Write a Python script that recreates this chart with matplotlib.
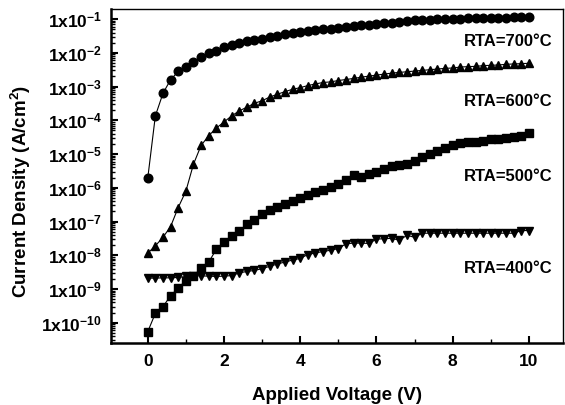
import matplotlib
matplotlib.use("Agg")
import matplotlib.pyplot as plt
import numpy as np
from matplotlib.ticker import LogLocator, FixedLocator, NullFormatter

plt.rcParams['font.family'] = ['Liberation Sans', 'DejaVu Sans']
plt.rcParams['font.weight'] = 'bold'
plt.rcParams['mathtext.fontset'] = 'custom'
plt.rcParams['mathtext.rm'] = 'Liberation Sans:bold'
plt.rcParams['mathtext.bf'] = 'Liberation Sans:bold'
plt.rcParams['mathtext.it'] = 'Liberation Sans:bold'

# applied voltage (V)
voltage = [0.0, 0.2, 0.4, 0.6, 0.8, 1.0, 1.2, 1.4, 1.6, 1.8,
           2.0, 2.2, 2.4, 2.6, 2.8, 3.0, 3.2, 3.4, 3.6, 3.8,
           4.0, 4.2, 4.4, 4.6, 4.8, 5.0, 5.2, 5.4, 5.6, 5.8,
           6.0, 6.2, 6.4, 6.6, 6.8, 7.0, 7.2, 7.4, 7.6, 7.8,
           8.0, 8.2, 8.4, 8.6, 8.8, 9.0, 9.2, 9.4, 9.6, 9.8, 10.0]

# current density (A/cm^2)
j_700 = [1.9e-6, 1.35e-4, 6.3e-4, 1.6e-3, 2.8e-3, 3.9e-3, 5.5e-3, 7.4e-3, 9.8e-3, 1.17e-2,
         1.45e-2, 1.66e-2, 1.95e-2, 2.19e-2, 2.45e-2, 2.63e-2, 2.95e-2, 3.24e-2, 3.55e-2, 3.8e-2,
         4.07e-2, 4.37e-2, 4.68e-2, 5.0e-2, 5.25e-2, 5.6e-2, 6.0e-2, 6.3e-2, 6.6e-2, 6.9e-2,
         7.2e-2, 7.6e-2, 7.9e-2, 8.3e-2, 8.7e-2, 9.1e-2, 9.3e-2, 9.5e-2, 9.8e-2, 1.0e-1,
         1.02e-1, 1.04e-1, 1.06e-1, 1.07e-1, 1.08e-1, 1.09e-1, 1.1e-1, 1.11e-1, 1.12e-1, 1.13e-1, 1.14e-1]

j_600 = [1.15e-8, 1.9e-8, 3.4e-8, 7.1e-8, 2.6e-7, 7.9e-7, 5.0e-6, 1.8e-5, 3.5e-5, 5.9e-5,
         8.9e-5, 1.35e-4, 1.9e-4, 2.45e-4, 3.2e-4, 3.8e-4, 4.9e-4, 5.9e-4, 7.1e-4, 8.3e-4,
         9.3e-4, 1.07e-3, 1.2e-3, 1.32e-3, 1.38e-3, 1.51e-3, 1.62e-3, 1.74e-3, 1.9e-3, 2.04e-3,
         2.19e-3, 2.34e-3, 2.51e-3, 2.63e-3, 2.75e-3, 2.88e-3, 3.02e-3, 3.16e-3, 3.31e-3, 3.47e-3,
         3.55e-3, 3.8e-3, 3.89e-3, 3.98e-3, 4.17e-3, 4.27e-3, 4.37e-3, 4.57e-3, 4.68e-3, 4.79e-3, 4.9e-3]

j_500 = [5.4e-11, 1.9e-10, 3.0e-10, 6.3e-10, 1.07e-9, 1.78e-9, 2.4e-9, 4.2e-9, 6.3e-9, 1.5e-8,
         2.5e-8, 3.8e-8, 5.2e-8, 8.3e-8, 1.12e-7, 1.66e-7, 2.14e-7, 2.75e-7, 3.4e-7, 4.1e-7,
         5.0e-7, 6.0e-7, 7.4e-7, 8.7e-7, 1.05e-6, 1.26e-6, 1.74e-6, 2.4e-6, 2.14e-6, 2.5e-6,
         2.9e-6, 3.6e-6, 4.3e-6, 4.8e-6, 5.2e-6, 6.3e-6, 7.9e-6, 1.02e-5, 1.26e-5, 1.51e-5,
         1.86e-5, 2.19e-5, 2.29e-5, 2.34e-5, 2.5e-5, 2.7e-5, 2.8e-5, 2.95e-5, 3.16e-5, 3.47e-5, 4.2e-5]

j_400 = [2.1e-9, 2.1e-9, 2.14e-9, 2.14e-9, 2.2e-9, 2.35e-9, 2.45e-9, 2.45e-9, 2.4e-9, 2.35e-9,
         2.4e-9, 2.5e-9, 3.0e-9, 3.3e-9, 3.55e-9, 4.0e-9, 4.7e-9, 5.5e-9, 6.3e-9, 7.2e-9,
         8.1e-9, 1.05e-8, 1.17e-8, 1.29e-8, 1.41e-8, 1.58e-8, 2.19e-8, 2.29e-8, 2.29e-8, 2.24e-8,
         3.0e-8, 3.1e-8, 3.16e-8, 2.8e-8, 3.9e-8, 3.4e-8, 4.5e-8, 4.5e-8, 4.5e-8, 4.5e-8,
         4.5e-8, 4.5e-8, 4.5e-8, 4.5e-8, 4.5e-8, 4.5e-8, 4.5e-8, 4.5e-8, 4.5e-8, 5.4e-8, 5.4e-8]

labels = ['RTA=700°C', 'RTA=600°C', 'RTA=500°C', 'RTA=400°C']
label_y = [2.2e-2, 3.6e-4, 2.1e-6, 4.0e-9]

fig = plt.figure(figsize=(5.65, 4.05), dpi=100)
ax = fig.add_axes([0.196, 0.153, 0.801, 0.824])

ax.plot(voltage, j_700, '-', color='black', lw=0.8, marker='o', ms=6.2)
ax.plot(voltage, j_600, '-', color='black', lw=0.8, marker='^', ms=6.2)
ax.plot(voltage, j_500, '-', color='black', lw=0.8, marker='s', ms=5.8)
ax.plot(voltage, j_400, '-', color='black', lw=0.8, marker='v', ms=6.2)

for txt, yy in zip(labels, label_y):
    ax.text(10.62, yy, txt, ha='right', va='center', fontsize=12, fontweight='bold')

ax.set_yscale('log')
ax.set_xlim(-0.97, 10.9)
ax.set_ylim(2.5e-11, 0.195)

ax.xaxis.set_major_locator(FixedLocator([0, 2, 4, 6, 8, 10]))
ax.xaxis.set_minor_locator(FixedLocator([1, 3, 5, 7, 9]))
ax.set_xticklabels(['0', '2', '4', '6', '8', '10'])

decades = [-1, -2, -3, -4, -5, -6, -7, -8, -9, -10]
ax.yaxis.set_major_locator(FixedLocator([10.0 ** d for d in decades]))
ax.set_yticklabels([r'$\mathrm{1x10^{%d}}$' % d for d in decades])
ax.yaxis.set_minor_locator(LogLocator(base=10, subs=np.arange(2, 10), numticks=100))
ax.yaxis.set_minor_formatter(NullFormatter())

ax.tick_params(which='major', direction='in', length=5, width=1.5, labelsize=12.5, pad=6)
ax.tick_params(which='minor', direction='in', length=3, width=1.0)
ax.tick_params(axis='x', which='major', pad=8, labelsize=12.5)

for side in ['left', 'bottom']:
    ax.spines[side].set_linewidth(1.8)
for side in ['top', 'right']:
    ax.spines[side].set_linewidth(1.0)

ax.set_xlabel('Applied Voltage (V)', fontsize=13.5, fontweight='bold', labelpad=13)
ax.set_ylabel(r'Current Density (A/cm$^\mathrm{2}$)', fontsize=13.5, fontweight='bold')
ax.yaxis.set_label_coords(-0.172, 0.455)

fig.savefig('out.png', dpi=100)
